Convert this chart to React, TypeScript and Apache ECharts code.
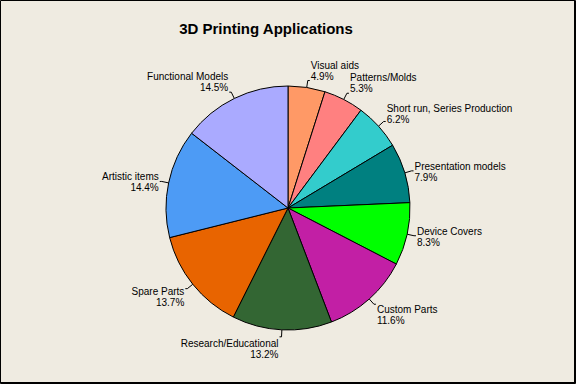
import React, { useEffect, useRef } from "react";
import * as echarts from "echarts";

const categories = [
  "Visual aids",
  "Patterns/Molds",
  "Short run, Series Production",
  "Presentation models",
  "Device Covers",
  "Custom Parts",
  "Research/Educational",
  "Spare Parts",
  "Artistic items",
  "Functional Models",
];
const values = [4.9, 5.3, 6.2, 7.9, 8.3, 11.6, 13.2, 13.7, 14.4, 14.5];
const colors = [
  "#FF9966",
  "#FF8080",
  "#33CCCC",
  "#008080",
  "#00FF00",
  "#C21FA5",
  "#336633",
  "#E86400",
  "#4D9BF5",
  "#AAAAFF",
];
const title = "3D Printing Applications";

const CX = 288;
const CY = 208;
const FONT = "Liberation Sans";

export default function App() {
  const ref = useRef<HTMLDivElement>(null);
  useEffect(() => {
    if (!ref.current) return;
    const chart = echarts.init(ref.current, null, { renderer: "svg" });
    chart.setOption({
      animation: false,
      backgroundColor: "#EFEBE1",
      title: {
        text: title,
        left: 261,
        textAlign: "center",
        top: 16,
        textStyle: { fontFamily: FONT, fontSize: 15, fontWeight: "bold", color: "#000" },
      },
      graphic: [
        {
          type: "rect",
          shape: { x: 0.5, y: 0.5, width: 575, height: 383 },
          style: { fill: "none", stroke: "#000", lineWidth: 1 },
          silent: true,
        },
        {
          type: "line",
          shape: { x1: 574.5, y1: 0, x2: 574.5, y2: 384 },
          style: { stroke: "#000", lineWidth: 1 },
          silent: true,
        },
        {
          type: "line",
          shape: { x1: 0, y1: 382.5, x2: 576, y2: 382.5 },
          style: { stroke: "#000", lineWidth: 1 },
          silent: true,
        },
      ],
      series: [
        {
          type: "pie",
          center: [CX, CY],
          radius: 122,
          startAngle: 90,
          clockwise: true,
          avoidLabelOverlap: false,
          data: categories.map((c, i) => ({
            name: c,
            value: values[i],
            itemStyle: { color: colors[i] },
          })),
          itemStyle: { borderColor: "#000", borderWidth: 1 },
          label: {
            show: true,
            position: "outside",
            formatter: (p: any) => `${p.name}\n${p.value.toFixed(1)}%`,
            fontFamily: FONT,
            fontSize: 10,
            lineHeight: 11,
            color: "#000",
          },
          labelLine: {
            show: true,
            length: 7,
            length2: 2,
            lineStyle: { color: "#000", width: 1 },
          },
          labelLayout: (params: any) => {
            const pts = params.labelLinePoints;
            if (!pts || pts.length < 2) return {};
            const end = pts[pts.length - 1];
            const mid = pts[1];
            const dx = mid[0] - CX;
            const dy = mid[1] - CY;
            const r = Math.hypot(dx, dy) || 1;
            const t = dy / r;
            const f = Math.sign(t) * Math.min(1, Math.max(0, (Math.abs(t) - 0.3) / 0.5));
            const h = params.labelRect.height;
            const right = dx >= 0;
            return {
              x: right ? end[0] + 1 : end[0] - 1,
              y: end[1] + f * (h / 2) + 1,
              align: right ? "left" : "right",
              verticalAlign: "middle",
              labelLinePoints: pts,
            };
          },
        },
      ],
    });
    return () => chart.dispose();
  }, []);
  return (
    <div
      ref={ref}
      style={{ position: "fixed", left: 0, top: 0, width: 576, height: 384 }}
    />
  );
}
